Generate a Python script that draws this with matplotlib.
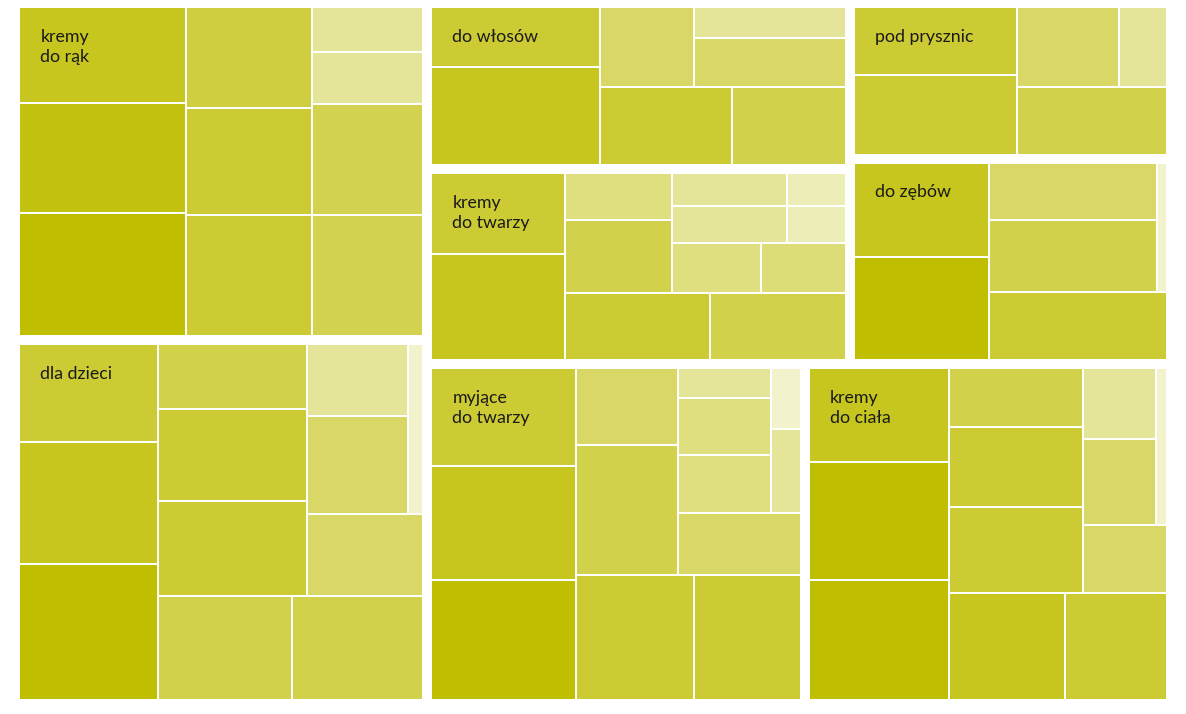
import matplotlib
matplotlib.use("Agg")
import matplotlib.pyplot as plt
from matplotlib.patches import Rectangle
from matplotlib.colors import LinearSegmentedColormap, Normalize

# categories (top level), in layout order
groups = ["dla dzieci", "kremy\ndo rąk", "myjące\ndo twarzy", "kremy\ndo ciała",
          "kremy\ndo twarzy", "do włosów", "do zębów", "pod prysznic"]

# leaf values per category
dla_dzieci = [200.2, 173.6, 145.9, 145.1, 146.4, 141.3, 138.6, 102.4, 97.6, 99.3, 76.5, 32.8]
kremy_do_rak = [216.7, 188.3, 171.3, 157.9, 144.1, 134.4, 132.3, 127.0, 60.3, 56.2]
myjace = [184.7, 169.2, 151.2, 152.0, 142.7, 133.8, 82.6, 78.5, 54.0, 52.7, 31.0, 28.9, 22.1]
kremy_do_ciala = [178.9, 168.9, 141.4, 128.8, 118.5, 114.0, 107.0, 84.6, 60.0, 62.9, 55.1, 23.9]
kremy_do_twarzy = [152.2, 115.8, 104.0, 99.7, 78.3, 53.8, 44.0, 43.8, 42.9, 42.7, 23.0, 23.0]
do_wlosow = [175.9, 111.0, 110.0, 97.1, 79.3, 74.9, 54.6]
do_zebow = [149.6, 137.9, 130.8, 121.4, 102.7, 19.0]
pod_prysznic = [140.7, 119.8, 110.5, 85.0, 43.9]

# colour value per leaf (0 = darkest, 100 = white)
c_dla_dzieci = [0, 12, 20, 30, 30, 20, 20, 30, 40, 40, 60, 80]
c_kremy_do_rak = [0, 6, 12, 20, 32, 20, 25, 32, 60, 60]
c_myjace = [0, 12, 20, 20, 20, 30, 40, 40, 50, 50, 60, 60, 80]
c_kremy_do_ciala = [0, 0, 12, 12, 20, 20, 20, 30, 40, 40, 60, 80]
c_kremy_do_twarzy = [12, 20, 20, 30, 30, 50, 50, 47, 60, 60, 72, 72]
c_do_wlosow = [12, 20, 20, 30, 40, 40, 60]
c_do_zebow = [0, 12, 20, 30, 40, 80]
c_pod_prysznic = [20, 20, 30, 40, 60]

values = [dla_dzieci, kremy_do_rak, myjace, kremy_do_ciala,
          kremy_do_twarzy, do_wlosow, do_zebow, pod_prysznic]
colors = [c_dla_dzieci, c_kremy_do_rak, c_myjace, c_kremy_do_ciala,
          c_kremy_do_twarzy, c_do_wlosow, c_do_zebow, c_pod_prysznic]


def aspect(a, b):
    return max(a / b, b / a)


def layout(vals, x, y, w, h):
    # squarified in a 100x100 space, strips alternate:
    # column on the left, then row at the bottom, and so on
    total = sum(vals)
    areas = [v / total * w * h for v in vals]
    rects = []
    column = True
    i = 0
    while i < len(areas):
        length = h if column else w
        j = i + 1
        while j < len(areas):
            p, a = areas[j - 1], areas[j]
            t_old = sum(areas[i:j]) / length
            t_new = t_old + a / length
            old = aspect(t_old, p / t_old)
            new = max(aspect(t_new, p / t_new), aspect(t_new, a / t_new))
            if new > old:
                break
            j += 1
        t = sum(areas[i:j]) / length
        pos = y if column else x
        for a in areas[i:j]:
            s = a / t
            rects.append((x, pos, t, s) if column else (pos, y, s, t))
            pos += s
        if column:
            x += t
            w -= t
        else:
            y += t
            h -= t
        column = not column
        i = j
    return rects


cmap = LinearSegmentedColormap.from_list("olive", ["#BFBE00", "#FFFFFF"])
norm = Normalize(0, 100)

fig = plt.figure(figsize=(11.86, 7.14), dpi=100)
ax = fig.add_axes([15 / 1186, 10 / 714, 1156 / 1186, 701 / 714])
ax.set_xlim(0, 100)
ax.set_ylim(0, 100)
ax.axis("off")

group_rects = layout([sum(v) for v in values], 0, 0, 100, 100)
for name, vals, cols, (gx, gy, gw, gh) in zip(groups, values, colors, group_rects):
    for c, (x, y, w, h) in zip(cols, layout(vals, gx, gy, gw, gh)):
        ax.add_patch(Rectangle((x, y), w, h, facecolor=cmap(norm(c)),
                               edgecolor="white", linewidth=1.44, zorder=1))
    ax.add_patch(Rectangle((gx, gy), gw, gh, fill=False, edgecolor="white",
                           linewidth=7.2, zorder=2, clip_on=False))
    ax.annotate(name, xy=(gx, gy + gh), xytext=(18.3, -18.5), textcoords="offset points",
                ha="left", va="top", fontsize=12.8, family="Lato", color="#1a1a1a",
                linespacing=1.3, zorder=3)

fig.savefig("out.png", dpi=100)
